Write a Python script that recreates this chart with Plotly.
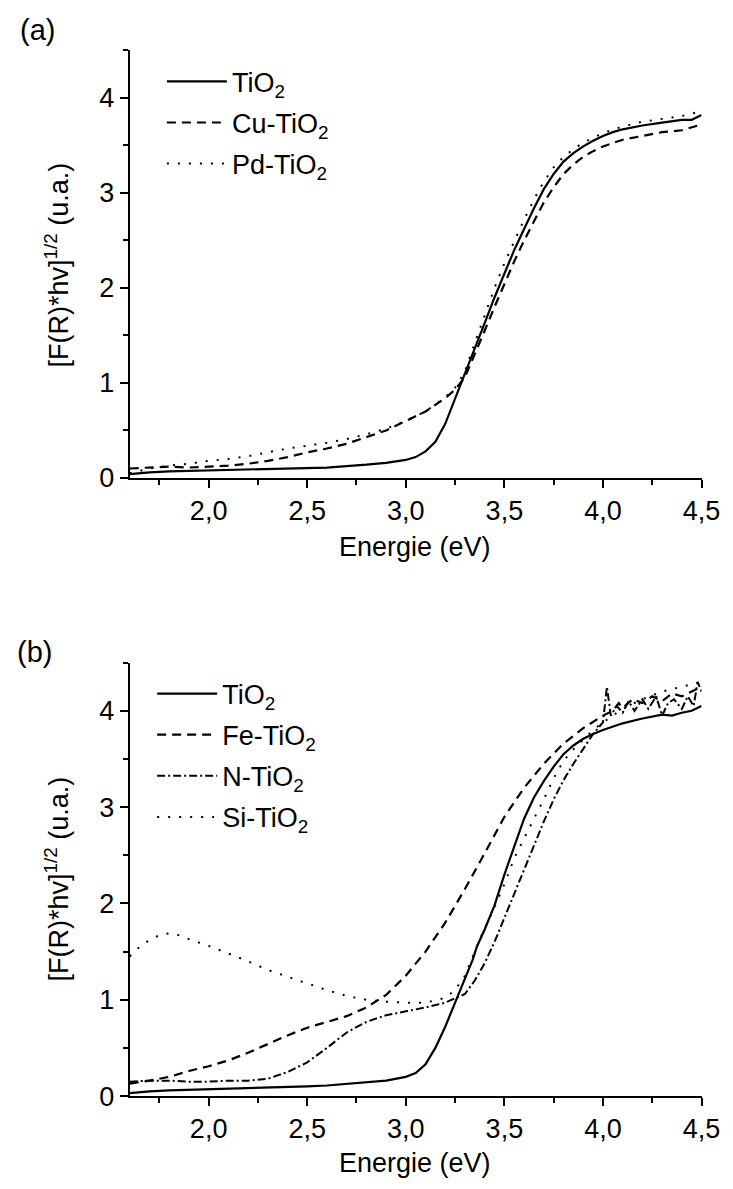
import plotly.graph_objects as go

# ---------------- Panel (a) data ----------------
a_tio2_x = [1.6, 1.7, 1.8, 1.9, 2.0, 2.2, 2.4, 2.6, 2.8, 2.9, 3.0, 3.05, 3.1, 3.15, 3.2, 3.25, 3.3, 3.35,
            3.4, 3.45, 3.5, 3.55, 3.6, 3.65, 3.7, 3.75, 3.8, 3.85, 3.9, 3.95, 4.0, 4.05, 4.1, 4.2, 4.3, 4.4,
            4.45, 4.5]
a_tio2_y = [0.04, 0.06, 0.07, 0.075, 0.08, 0.085, 0.095, 0.11, 0.14, 0.16, 0.19, 0.22, 0.28, 0.38, 0.57, 0.83,
            1.1, 1.37, 1.63, 1.9, 2.15, 2.4, 2.62, 2.84, 3.04, 3.2, 3.33, 3.42, 3.49, 3.55, 3.6, 3.64, 3.67,
            3.71, 3.74, 3.77, 3.77, 3.82]

a_cu_x = [1.6, 1.7, 1.8, 1.9, 2.0, 2.1, 2.2, 2.3, 2.4, 2.5, 2.6, 2.7, 2.8, 2.9, 3.0, 3.1, 3.2, 3.25, 3.3,
          3.35, 3.4, 3.45, 3.5, 3.55, 3.6, 3.65, 3.7, 3.75, 3.8, 3.85, 3.9, 3.95, 4.0, 4.1, 4.2, 4.3, 4.4, 4.5]
a_cu_y = [0.1, 0.11, 0.12, 0.11, 0.12, 0.13, 0.15, 0.18, 0.22, 0.27, 0.31, 0.36, 0.43, 0.5, 0.6, 0.7, 0.84,
          0.93, 1.06, 1.3, 1.55, 1.8, 2.05, 2.28, 2.5, 2.7, 2.9, 3.06, 3.2, 3.3, 3.38, 3.44, 3.49, 3.56, 3.6,
          3.64, 3.66, 3.72]

a_pd_x = [1.6, 1.7, 1.8, 1.9, 2.0, 2.1, 2.2, 2.3, 2.4, 2.5, 2.6, 2.7, 2.8, 2.9, 3.0, 3.1, 3.2, 3.25, 3.3,
          3.35, 3.4, 3.45, 3.5, 3.55, 3.6, 3.65, 3.7, 3.75, 3.8, 3.85, 3.9, 3.95, 4.0, 4.1, 4.2, 4.3, 4.4, 4.5]
a_pd_y = [0.05, 0.1, 0.13, 0.15, 0.18, 0.2, 0.23, 0.27, 0.31, 0.34, 0.37, 0.41, 0.46, 0.52, 0.6, 0.7, 0.85,
          0.95, 1.12, 1.42, 1.72, 2.0, 2.26, 2.5, 2.72, 2.93, 3.12, 3.27, 3.38, 3.46, 3.53, 3.58, 3.63, 3.7,
          3.75, 3.78, 3.81, 3.86]

# ---------------- Panel (b) data ----------------
b_tio2_x = [1.6, 1.7, 1.8, 1.9, 2.0, 2.2, 2.4, 2.5, 2.6, 2.8, 2.9, 3.0, 3.05, 3.1, 3.15, 3.2, 3.25, 3.3,
            3.34, 3.36, 3.4, 3.45, 3.5, 3.55, 3.6, 3.65, 3.7, 3.75, 3.8, 3.85, 3.9, 3.95, 4.0, 4.1, 4.2, 4.3,
            4.35, 4.4, 4.45, 4.5]
b_tio2_y = [0.03, 0.05, 0.06, 0.065, 0.07, 0.08, 0.09, 0.1, 0.11, 0.14, 0.16, 0.2, 0.24, 0.33, 0.5, 0.72,
            0.98, 1.22, 1.42, 1.55, 1.73, 1.98, 2.3, 2.6, 2.88, 3.1, 3.27, 3.42, 3.55, 3.64, 3.71, 3.76, 3.8,
            3.87, 3.92, 3.96, 3.95, 3.98, 4.0, 4.05]

b_fe_x = [1.6, 1.7, 1.8, 1.9, 2.0, 2.1, 2.2, 2.3, 2.4, 2.5, 2.6, 2.7, 2.8, 2.9, 3.0, 3.1, 3.2, 3.3, 3.4,
          3.5, 3.6, 3.7, 3.8, 3.9, 4.0, 4.05, 4.08, 4.1, 4.15, 4.2, 4.25, 4.3, 4.35, 4.4, 4.45, 4.5]
b_fe_y = [0.13, 0.16, 0.2, 0.26, 0.31, 0.37, 0.45, 0.54, 0.63, 0.71, 0.77, 0.83, 0.92, 1.05, 1.25, 1.5, 1.8,
          2.15, 2.52, 2.9, 3.2, 3.45, 3.66, 3.82, 3.95, 4.0, 4.08, 4.03, 4.12, 4.08, 4.15, 4.1, 4.18, 4.15,
          4.2, 4.25]

b_n_x = [1.6, 1.7, 1.8, 1.9, 2.0, 2.1, 2.2, 2.3, 2.4, 2.5, 2.6, 2.7, 2.8, 2.9, 3.0, 3.1, 3.2, 3.3, 3.35,
         3.4, 3.45, 3.5, 3.55, 3.6, 3.65, 3.7, 3.75, 3.8, 3.85, 3.9, 3.95, 4.0, 4.02, 4.04, 4.07, 4.1, 4.13,
         4.16, 4.2, 4.23, 4.27, 4.3, 4.33, 4.36, 4.4, 4.43, 4.46, 4.48, 4.5]
b_n_y = [0.15, 0.16, 0.16, 0.15, 0.15, 0.16, 0.16, 0.18, 0.25, 0.35, 0.5, 0.66, 0.77, 0.84, 0.88, 0.92,
         0.97, 1.06, 1.2, 1.38, 1.6, 1.85, 2.12, 2.35, 2.6, 2.85, 3.08, 3.28, 3.45, 3.6, 3.76, 3.88, 4.25,
         3.95, 4.05, 3.98, 4.1, 4.0, 4.12, 4.02, 4.15, 3.95, 4.08, 4.12, 4.02, 4.15, 4.05, 4.3, 4.2]

b_si_x = [1.6, 1.65, 1.7, 1.75, 1.8, 1.85, 1.9, 2.0, 2.1, 2.2, 2.3, 2.4, 2.5, 2.6, 2.7, 2.8, 2.9, 3.0, 3.1,
          3.2, 3.25, 3.3, 3.35, 3.4, 3.45, 3.5, 3.55, 3.6, 3.65, 3.7, 3.75, 3.8, 3.85, 3.9, 3.95, 4.0, 4.1,
          4.2, 4.3, 4.4, 4.5]
b_si_y = [1.45, 1.55, 1.62, 1.67, 1.69, 1.67, 1.63, 1.56, 1.48, 1.4, 1.31, 1.24, 1.17, 1.1, 1.04, 1.0, 0.98,
          0.97, 0.97, 1.02, 1.1, 1.25, 1.5, 1.74, 1.96, 2.2, 2.47, 2.68, 2.88, 3.08, 3.3, 3.48, 3.6, 3.7,
          3.8, 3.88, 4.02, 4.12, 4.2, 4.25, 4.3]

x_major_ticks = [2.0, 2.5, 3.0, 3.5, 4.0, 4.5]
x_tick_labels = ["2,0", "2,5", "3,0", "3,5", "4,0", "4,5"]
y_major_ticks = [0, 1, 2, 3, 4]

x_title = "Energie (eV)"
y_title = "[F(R)*hv]<sup>1/2</sup> (u.a.)"

FONT = "Arial, Liberation Sans, sans-serif"
FS = 27

fig = go.Figure()

def add(x, y, name, dash, width, xa, ya, legend):
    fig.add_trace(go.Scatter(
        x=x, y=y, mode="lines", name=name, xaxis=xa, yaxis=ya, legend=legend,
        legendgroup=name + legend,
        line=dict(color="black", dash=dash, width=width),
    ))

add(a_tio2_x, a_tio2_y, "TiO<sub>2</sub>", "solid", 2.2, "x", "y", "legend")
add(a_cu_x, a_cu_y, "Cu-TiO<sub>2</sub>", "9px,6px", 2.2, "x", "y", "legend")
add(a_pd_x, a_pd_y, "Pd-TiO<sub>2</sub>", "2px,9px", 2.0, "x", "y", "legend")

add(b_tio2_x, b_tio2_y, "TiO<sub>2</sub>", "solid", 2.2, "x2", "y2", "legend2")
add(b_fe_x, b_fe_y, "Fe-TiO<sub>2</sub>", "9px,6px", 2.2, "x2", "y2", "legend2")
add(b_n_x, b_n_y, "N-TiO<sub>2</sub>", "8px,3px,2px,3px", 2.0, "x2", "y2", "legend2")
add(b_si_x, b_si_y, "Si-TiO<sub>2</sub>", "2px,9px", 2.0, "x2", "y2", "legend2")

W, H = 733, 1189
xdom = [125 / W, 712 / W]
ydom_a = [1 - 476 / H, 1 - 43 / H]
ydom_b = [1 - 1102 / H, 1 - 663 / H]

def xaxis_cfg(anchor):
    return dict(
        domain=xdom, anchor=anchor, range=[1.6, 4.5],
        showline=True, linecolor="black", linewidth=2,
        ticks="outside", ticklen=8, tickwidth=2, tickcolor="black",
        tickvals=x_major_ticks, ticktext=x_tick_labels,
        minor=dict(ticks="outside", ticklen=5, tickwidth=1.5, tickcolor="black", dtick=0.25, tick0=0),
        showgrid=False, zeroline=False,
        tickfont=dict(family=FONT, size=FS, color="black"),
    )

def yaxis_cfg(anchor, dom):
    return dict(
        domain=dom, anchor=anchor, range=[0, 4.5],
        showline=True, linecolor="black", linewidth=2,
        ticks="outside", ticklen=8, tickwidth=2, tickcolor="black",
        tickvals=y_major_ticks,
        minor=dict(ticks="outside", ticklen=5, tickwidth=1.5, tickcolor="black", dtick=0.5, tick0=0),
        showgrid=False, zeroline=False,
        tickfont=dict(family=FONT, size=FS, color="black"),
    )

legend_common = dict(
    font=dict(family=FONT, size=FS, color="black"),
    bgcolor="rgba(0,0,0,0)", borderwidth=0,
    xanchor="left", yanchor="top", tracegroupgap=3,
    itemwidth=60,
)

def ann(text, x, y, size=FS, angle=0):
    return dict(text=text, x=x / W, y=1 - y / H, xref="paper", yref="paper", showarrow=False,
                xanchor="center", yanchor="middle", textangle=angle,
                font=dict(family=FONT, size=size, color="black"))

fig.update_layout(
    width=W, height=H,
    margin=dict(l=0, r=0, t=0, b=0),
    paper_bgcolor="white", plot_bgcolor="white",
    showlegend=True,
    xaxis=xaxis_cfg("y"),
    yaxis=yaxis_cfg("x", ydom_a),
    xaxis2=xaxis_cfg("y2"),
    yaxis2=yaxis_cfg("x2", ydom_b),
    legend=dict(x=158 / W, y=1 - 50 / H, **legend_common),
    legend2=dict(x=148 / W, y=1 - 670 / H, **legend_common),
    annotations=[
        ann("(a)", 30, 22, size=29),
        ann("(b)", 27, 652, size=29),
        ann(x_title, 418, 546),
        ann(x_title, 418, 1170),
        ann(y_title, 50, 260, angle=-90),
        ann(y_title, 50, 882, angle=-90),
    ],
)

fig.write_html("out.html")
